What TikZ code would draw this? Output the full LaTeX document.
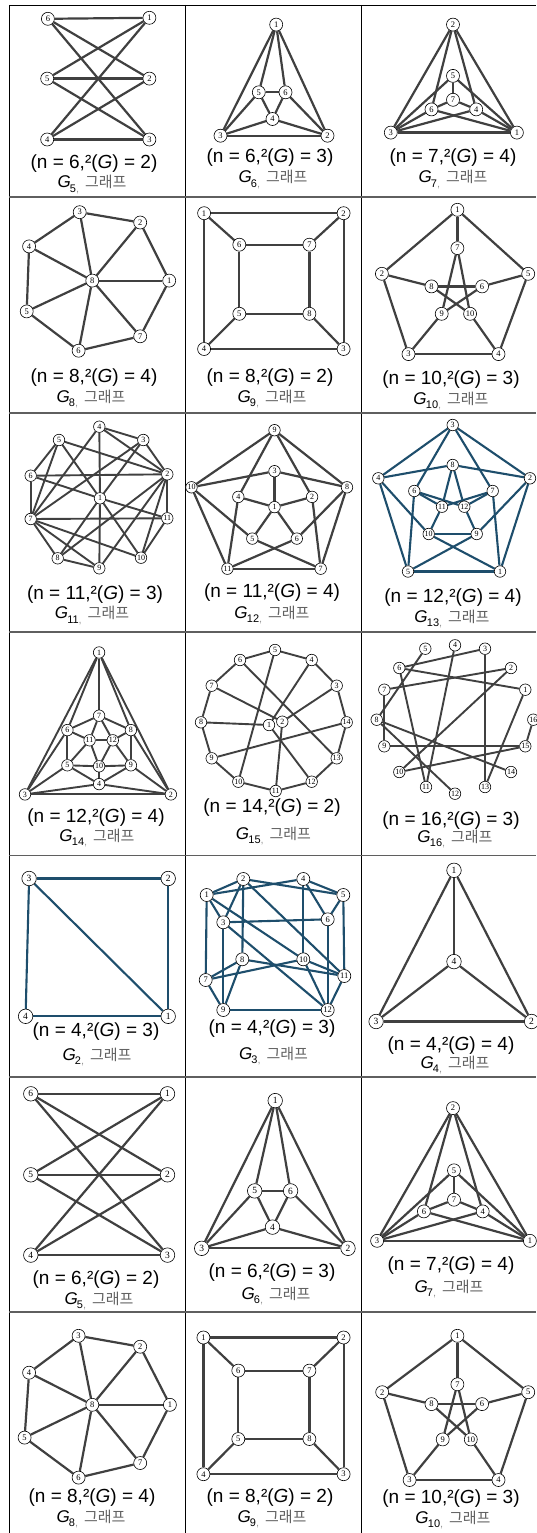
\documentclass[tikz,border=0pt]{standalone}
\usepackage{fontspec}
\setmainfont{Liberation Sans}
\newfontfamily\kor{Noto Sans CJK KR}
\newfontfamily\nser{Liberation Serif}
\definecolor{edgegray}{RGB}{64,64,64}
\definecolor{edgeblue}{RGB}{30,78,108}
\definecolor{tablegray}{RGB}{95,95,95}
\pgfdeclarelayer{bg}
\pgfsetlayers{bg,main}
\newcommand{\gnodes}[3]{\foreach \n/\x/\y in {#3}{\node[v,#2] (#1\n) at (\x,\y) {\n};}}
\newcommand{\gedges}[3]{\begin{pgfonlayer}{bg}\foreach \a/\b in {#3}{\draw[#2] (#1\a) -- (#1\b);}\end{pgfonlayer}}
\newcommand{\cone}[2]{(n = #1,²(\textit{G}) = #2)}
\newcommand{\ctwo}[1]{\textit{G}\kern-0.8pt\raisebox{-0.25em}{\fontsize{11}{11}\selectfont #1\textcolor{black!40}{,}}\hspace{0.35em}{\kor\fontsize{15}{15}\selectfont\color{black!62}그래프}}
\tikzset{
  v/.style={circle, draw=black, line width=0.6pt, fill=white, inner sep=0pt, minimum size=13pt, font={\nser\fontsize{8.5}{8.5}\selectfont}},
  small/.style={minimum size=11.5pt, font={\nser\fontsize{8}{8}\selectfont}},
  big/.style={minimum size=14.5pt, font={\nser\fontsize{9.5}{9.5}\selectfont}},
  e/.style={line width=2.2pt, draw=edgegray},
  et/.style={line width=1.9pt, draw=edgegray},
  eb/.style={line width=2.1pt, draw=edgeblue},
  capa/.style={inner sep=0pt, font={\fontsize{19}{19}\selectfont}},
  capb/.style={inner sep=0pt, font={\fontsize{17}{17}\selectfont}},
  vline/.style={line width=0.9pt, draw=black},
  hline/.style={line width=1.8pt, draw=tablegray},
}
\begin{document}
\begin{tikzpicture}[x=1pt,y=-1pt]
\useasboundingbox (0,0) rectangle (536,1533);
% table
\draw[vline] (9,5) -- (536,5);
\foreach \xx in {9,185.5,361}{\draw[vline] (\xx,5) -- (\xx,1533);}
\foreach \yy in {197,413,632,855.5,1077,1312}{\draw[hline] (9,\yy) -- (536,\yy);}

% ---------- Row 1 ----------
% G5
\gnodes{A}{}{6/47.9/18.8,1/149.4/17.8,5/47.2/78.6,2/149.4/78.6,4/47.2/139.5,3/149.4/139.5}
\gedges{A}{e}{6/1,6/2,6/3,5/1,5/2,5/3,4/1,4/2,4/3}
\node[capa] (A-c1) at (94,164) {\cone{6}{2}};
\node[capb] (A-c2) at (92,184.5) {\ctwo{5}};
% G6
\gnodes{B}{}{1/276.2/24.6,5/258.8/92.3,6/285.5/92.3,4/272.5/119,3/220.5/135.7,2/327.5/135.7}
\gedges{B}{e}{1/3,1/2,1/5,1/6,5/6,5/3,5/4,6/4,6/2,4/3,4/2,3/2}
\node[capa] (B-c1) at (270,157.3) {\cone{6}{3}};
\node[capb] (B-c2) at (273,179.5) {\ctwo{6}};
% G7
\gnodes{C}{}{2/453/24.6,5/453/75.9,7/453/99.8,6/431.5/109.4,4/476.2/109.4,3/390.8/132.6,1/516.9/132.6}
\gedges{C}{e}{2/3,2/1,2/6,2/4,5/7,5/3,5/1,7/6,7/4,6/1,4/3,3/1,3/6,1/4}
\node[capa] (C-c1) at (453,157.3) {\cone{7}{4}};
\node[capb] (C-c2) at (453,179.5) {\ctwo{7}};

% ---------- Row 2 ----------
% G8
\gnodes{D}{}{3/79.7/212.2,2/140.2/222.5,4/29.1/246.4,8/92.3/280.6,1/169.2/280.6,5/26.7/311.4,7/140.2/336.3,6/78.6/350.7}
\gedges{D}{e}{3/2,2/1,1/7,7/6,6/5,5/4,4/3,8/1,8/2,8/3,8/4,8/5,8/6,8/7}
\node[capa] (D-c1) at (94,377.4) {\cone{8}{4}};
\node[capb] (D-c2) at (91,399.2) {\ctwo{8}};
% G9
\gnodes{E}{}{1/204.1/213.2,2/343.6/213.2,6/239.3/244.7,7/309.4/244.7,5/239.3/313.8,8/309.4/313.8,4/204.1/349,3/343.6/349}
\gedges{E}{e}{1/2,2/3,3/4,4/1,6/7,7/8,8/5,5/6,1/6,2/7,3/8,4/5}
\node[capa] (E-c1) at (270,377.4) {\cone{8}{2}};
\node[capb] (E-c2) at (272,399.2) {\ctwo{9}};
% G10
\gnodes{F}{}{1/457.4/209.8,2/381.9/273.8,5/528.2/273.8,7/457.4/248.1,8/431.5/286.4,6/482.1/286.4,9/441.7/313.8,10/470.1/313.8,3/408.5/354.1,4/498.5/354.1}
\gedges{F}{e}{1/2,2/3,3/4,4/5,5/1,1/7,2/8,5/6,3/9,4/10,7/9,7/10,8/6,8/10,6/9}
\node[capa] (F-c1) at (451,379.7) {\cone{10}{3}};
\node[capb] (F-c2) at (451,401.3) {\ctwo{10}};

% ---------- Row 3 ----------
% G11
\gnodes{H}{small}{4/99.3/426.7,5/59/440,3/143.3/440,6/30.7/475.7,2/167.3/474.3,1/100/498.3,7/30.7/519,11/167.3/518.3,8/57.7/558.3,10/141/557.7,9/99.3/568.3}
\gedges{H}{et}{4/3,4/2,4/1,1/9,4/7,3/2,3/7,3/1,1/8,5/6,5/7,5/2,5/1,1/10,6/7,6/2,6/1,1/11,2/11,2/10,2/9,2/8,7/11,7/10,7/9,7/8,11/10,8/9}
\node[capa] (H-c1) at (95,595) {\cone{11}{3}};
\node[capb] (H-c2) at (92,615.5) {\ctwo{11}};
% G12
\gnodes{I}{small}{9/274.5/430.2,3/274.5/471.2,10/191.5/487.3,8/347/487.3,4/238.3/496.9,2/312.1/496.9,1/274.5/507.1,5/252.3/538.6,6/296.8/538.6,11/227.4/568.7,7/320.7/568.7}
\gedges{I}{e}{9/10,9/8,9/4,9/2,3/10,3/8,3/1,1/4,1/2,1/5,1/6,10/11,10/5,8/7,8/6,4/11,2/7,11/7,11/6,5/7}
\node[capa] (I-c1) at (272,592.6) {\cone{11}{4}};
\node[capb] (I-c2) at (272,614.8) {\ctwo{12}};
% G13
\gnodes{J}{small}{3/452.7/425,8/452.7/465,4/378.3/478.3,2/530/478.3,6/414.3/491,7/492.7/491,11/442/506.7,12/464.3/506.7,10/428.7/534,9/476.7/534,5/408/571.5,1/500/571.5}
\gedges{J}{eb}{3/4,3/2,3/6,3/7,8/4,8/2,8/11,8/12,4/5,4/10,2/1,2/9,6/5,6/11,6/12,7/1,7/11,7/12,11/10,12/9,10/9,10/1,9/5,5/1}
\node[capa] (J-c1) at (453,597.7) {\cone{12}{4}};
\node[capb] (J-c2) at (452,619.3) {\ctwo{13}};

% ---------- Row 4 ----------
% G14
\gnodes{K}{small}{1/99.1/652.5,7/99.1/715.7,6/67.4/730.1,8/130.9/730.1,11/89.6/740.3,12/112.8/740.3,5/67.4/765.3,10/99.1/766.3,9/130.9/765.3,4/99.1/784.1,3/25/794.4,2/170.9/794.4}
\gedges{K}{et}{1/3,1/2,1/7,1/6,1/8,7/6,7/8,7/11,7/12,6/11,6/5,6/3,8/12,8/9,8/2,11/12,11/5,11/10,12/9,12/10,5/10,5/4,5/3,9/10,9/4,9/2,10/4,4/3,4/2,3/2}
\node[capa] (K-c1) at (96,817.6) {\cone{12}{4}};
\node[capb] (K-c2) at (97,838) {\ctwo{14}};
% G15
\gnodes{L}{small}{5/275/650,6/240/660,4/311.7/660,7/211.7/685.7,3/336.7/685.7,8/201/722.3,14/346.7/722.3,1/269/725,2/282.3/721.7,9/211.7/758.3,13/336.7/758.3,10/238.3/781.7,12/311.7/781.7,11/275.7/791}
\gedges{L}{et}{5/4,4/3,3/14,14/13,13/12,12/11,11/10,10/9,9/8,8/7,7/6,6/5,5/10,4/1,3/2,14/9,6/13,7/2,8/1,1/12,2/11}
\node[capa] (L-c1) at (272,808) {\cone{14}{2}};
\node[capb] (L-c2) at (273.5,836) {\ctwo{15}};
% G16
\gnodes{M}{small}{5/425.3/648.7,4/455/645.3,3/485/648.7,6/399.3/668,2/511/668,7/384.3/689.7,1/525.3/689.7,8/376.7/719.7,16/533.3/719.7,9/384.3/746.3,15/525.3/746.3,10/399.3/772,14/511/772,11/426/787,13/485/787,12/455/793.7}
\gedges{M}{et}{5/8,6/3,6/1,6/11,4/11,3/13,2/7,2/10,1/13,7/9,8/12,8/14,9/15,10/15,16/15}
\node[capa] (M-c1) at (451,821) {\cone{16}{3}};
\node[capb] (M-c2) at (455,839) {\ctwo{16}};

% ---------- Row 5 ----------
% G2
\gnodes{N}{big}{3/29.1/878.5,2/168.2/878.5,4/25.6/1016.3,1/168.2/1016.3}
\gedges{N}{eb}{3/2,2/1,1/4,4/3,3/1}
\node[capa] (N-c1) at (96,1032) {\cone{4}{3}};
\node[capb] (N-c2) at (97,1057) {\ctwo{2}};
% G3
\gnodes{O}{}{2/243.3/879,4/303.3/879,1/206.7/895,5/343.3/895,3/223.3/922.3,6/327.7/919.3,8/242.3/959.3,10/303.3/959.3,7/205.7/980,11/344.3/976,9/223.3/1010,12/327.7/1010}
\gedges{O}{eb}{1/2,1/4,1/3,1/7,1/10,2/5,2/3,2/8,2/11,4/5,4/6,4/10,5/6,5/11,3/6,3/9,3/12,6/12,8/7,8/9,8/11,10/7,10/12,10/11,7/9,9/12,11/12}
\node[capa] (O-c1) at (272,1029) {\cone{4}{3}};
\node[capb] (O-c2) at (273.5,1056) {\ctwo{3}};
% G4
\gnodes{P}{big}{1/454/870.3,4/454/961.6,3/376.1/1021.5,2/531.6/1021.5}
\gedges{P}{e}{1/4,1/3,1/2,4/3,4/2,3/2}
\node[capa] (P-c1) at (451,1045.4) {\cone{4}{4}};
\node[capb] (P-c2) at (455,1065) {\ctwo{4}};

% ---------- Row 6 ----------
% G5
\gnodes{Q}{big}{6/30.8/1093.8,1/167.5/1093.8,5/30.8/1174.8,2/167.5/1174.8,4/30.8/1255.1,3/167.5/1255.1}
\gedges{Q}{e}{6/1,6/2,6/3,5/1,5/2,5/3,4/1,4/2,4/3}
\node[capa] (Q-c1) at (96,1279.7) {\cone{6}{2}};
\node[capb] (Q-c2) at (99,1301) {\ctwo{5}};
% G6
\gnodes{R}{big}{1/275.2/1100.6,5/254.7/1190.9,6/290.6/1190.9,4/272.5/1227.1,3/201.7/1248.3,2/348/1248.3}
\gedges{R}{e}{1/3,1/2,1/5,1/6,5/6,5/3,5/4,6/4,6/2,4/3,4/2,3/2}
\node[capa] (R-c1) at (272,1273) {\cone{6}{3}};
\node[capb] (R-c2) at (276,1296) {\ctwo{6}};
% G7
\gnodes{S}{}{2/453/1108.1,5/454/1170.3,7/454/1199.7,6/423.9/1211.4,4/482.7/1211.4,3/377.1/1240.8,1/529.9/1240.8}
\gedges{S}{e}{2/3,2/1,2/6,2/4,5/7,5/3,5/1,7/6,7/4,6/1,4/3,3/1,3/6,1/4}
\node[capa] (S-c1) at (451,1266) {\cone{7}{4}};
\node[capb] (S-c2) at (449,1289) {\ctwo{7}};

% ---------- Row 7 ----------
% G8
\gnodes{T}{}{3/78.6/1335.8,2/140.2/1346.7,4/29.1/1372.7,8/92.3/1404.8,1/169.9/1404.8,5/24.6/1437.6,7/140.2/1463,6/78.6/1477.6}
\gedges{T}{e}{3/2,2/1,1/7,7/6,6/5,5/4,4/3,8/1,8/2,8/3,8/4,8/5,8/6,8/7}
\node[capa] (T-c1) at (92,1498) {\cone{8}{4}};
\node[capb] (T-c2) at (91,1519) {\ctwo{8}};
% G9
\gnodes{U}{}{1/203.4/1337.5,2/343.6/1337.5,6/238.3/1370.6,7/309.4/1370.6,5/238.3/1439,8/309.4/1439,4/203.4/1474.2,3/343.6/1474.2}
\gedges{U}{e}{1/2,2/3,3/4,4/1,6/7,7/8,8/5,5/6,1/6,2/7,3/8,4/5}
\node[capa] (U-c1) at (270,1497.5) {\cone{8}{2}};
\node[capb] (U-c2) at (272,1519) {\ctwo{9}};
% G10
\gnodes{W}{}{1/457.4/1335.8,7/457.4/1384.3,2/382.2/1392.2,5/528.2/1392.2,8/431.5/1404.1,6/482.1/1404.1,9/442.7/1439.4,10/470.8/1439.4,3/409.6/1480,4/498.5/1480}
\gedges{W}{e}{1/2,2/3,3/4,4/5,5/1,1/7,2/8,5/6,3/9,4/10,7/9,7/10,8/6,8/10,6/9}
\node[capa] (W-c1) at (451,1499) {\cone{10}{3}};
\node[capb] (W-c2) at (453,1520) {\ctwo{10}};
\end{tikzpicture}
\end{document}
